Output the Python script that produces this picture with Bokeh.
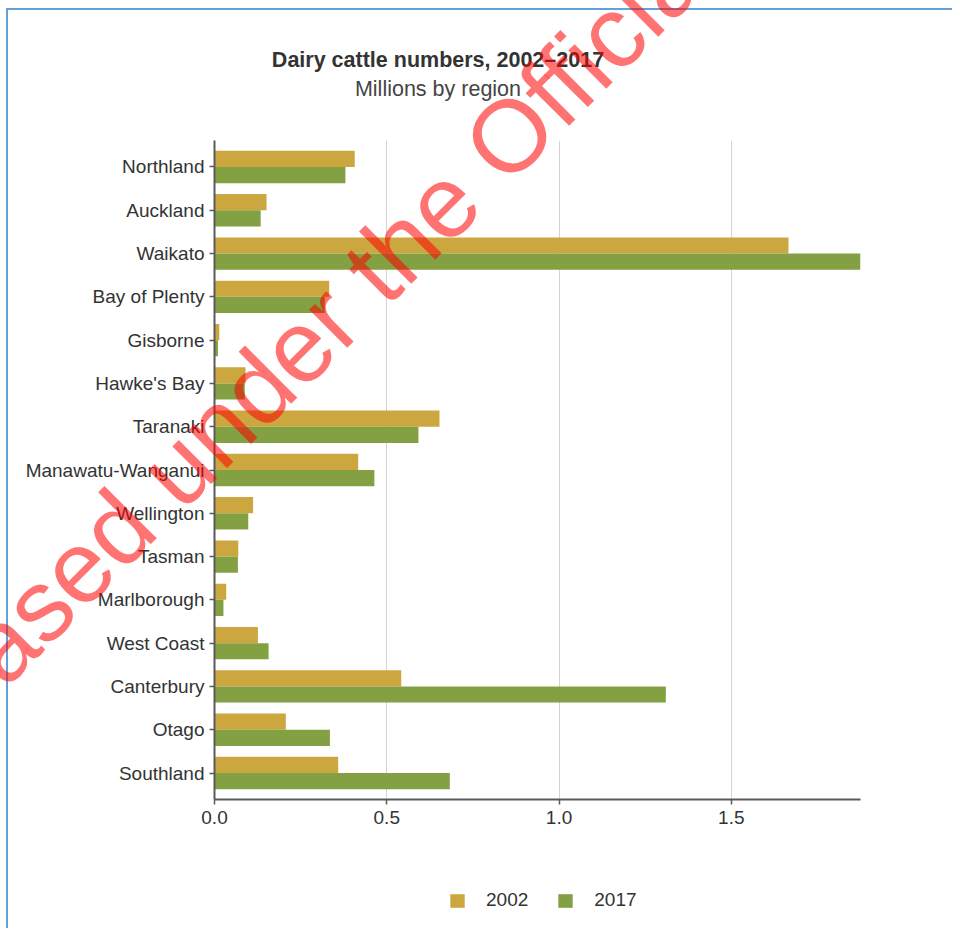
from bokeh.plotting import figure
from bokeh.layouts import column
from bokeh.models import (ColumnDataSource, Range1d, FixedTicker, Div,
                          PrintfTickFormatter, Legend, LegendItem)
from bokeh.transform import dodge
from bokeh.embed import file_html
from bokeh.resources import INLINE

# ---- data (millions of dairy cattle) ----
regions = ["Northland", "Auckland", "Waikato", "Bay of Plenty", "Gisborne",
           "Hawke's Bay", "Taranaki", "Manawatu-Wanganui", "Wellington",
           "Tasman", "Marlborough", "West Coast", "Canterbury", "Otago",
           "Southland"]
cattle_2002 = [0.407, 0.151, 1.666, 0.333, 0.014, 0.090, 0.653, 0.417,
               0.112, 0.069, 0.034, 0.126, 0.542, 0.207, 0.359]
cattle_2017 = [0.380, 0.134, 1.875, 0.320, 0.010, 0.088, 0.592, 0.464,
               0.098, 0.068, 0.026, 0.157, 1.310, 0.335, 0.683]
years = ["2002", "2017"]
x_ticks = [0.0, 0.5, 1.0, 1.5]

title_text = "Dairy cattle numbers, 2002\u20132017"
subtitle_text = "Millions by region"
watermark_text = "Released under the Official Information Act 1982"

FONT = "Liberation Sans"
C2002 = "#cca73f"
C2017 = "#83a142"
BLUE = "#62a0dc"

n = len(regions)
ypos = [n - i for i in range(n)]          # Northland at top
source = ColumnDataSource(data=dict(region=regions, ypos=ypos,
                                    v2002=cattle_2002, v2017=cattle_2017))

# ---- heading (and the red stamp that lies over the whole chart) ----
head_html = (
    '<div style="position:relative;width:944px;height:130px;'
    'font-family:\'Liberation Sans\',Arial,sans-serif;">'
    '<div style="position:absolute;left:0;top:37px;width:860px;text-align:center;'
    'font-weight:bold;font-size:21.5px;line-height:26px;color:#333333;">'
    f'{title_text}</div>'
    '<div style="position:absolute;left:0;top:66px;width:860px;text-align:center;'
    'font-size:21.5px;line-height:26px;color:#444444;">'
    f'{subtitle_text}</div>'
    '<div style="position:absolute;left:-151px;top:742px;'
    'transform-origin:0px 86px;transform:rotate(-45deg);white-space:nowrap;'
    'font-size:102px;line-height:102px;color:rgba(255,0,0,0.55);'
    'pointer-events:none;">'
    f'{watermark_text}</div>'
    '</div>'
)
head = Div(text=head_html, width=944, height=130, margin=0,
           styles={"z-index": "10", "position": "relative", "overflow": "visible"})

# ---- main bar chart ----
pad = 0.112
p = figure(width=944, height=699,
           y_range=Range1d(0.5 - pad, n + 0.5 + pad),
           x_range=Range1d(0, max(cattle_2017)),
           output_backend="svg", toolbar_location=None,
           min_border_left=206, min_border_right=92,
           min_border_top=0, min_border_bottom=40)
p.title.visible = False
p.margin = 0

bar_h = 0.374
r1 = p.hbar(y=dodge("ypos", bar_h / 2), right="v2002",
            height=bar_h, source=source, fill_color=C2002, line_color=None)
r2 = p.hbar(y=dodge("ypos", -bar_h / 2), right="v2017",
            height=bar_h, source=source, fill_color=C2017, line_color=None)

p.xaxis.ticker = FixedTicker(ticks=x_ticks)
p.xaxis.formatter = PrintfTickFormatter(format="%.1f")
p.yaxis.ticker = FixedTicker(ticks=ypos)
p.yaxis.major_label_overrides = {y: r for y, r in zip(ypos, regions)}
for ax in (p.xaxis[0], p.yaxis[0]):
    ax.axis_line_color = "#5a5a5a"
    ax.axis_line_width = 2
    ax.major_tick_line_color = "#5a5a5a"
    ax.major_tick_line_width = 1.5
    ax.major_tick_out = 5
    ax.major_tick_in = 0
    ax.minor_tick_line_color = None
    ax.major_label_text_font = FONT
    ax.major_label_text_font_size = "19px"
    ax.major_label_text_color = "#333333"
    ax.major_label_standoff = 5
p.xaxis.major_label_standoff = 6

p.xgrid.ticker = FixedTicker(ticks=x_ticks[1:])
p.xgrid.grid_line_color = "#d4d4d4"
p.xgrid.grid_line_width = 1
p.ygrid.visible = False
p.outline_line_color = None

# ---- legend strip (own small figure so the legend sits below the axis) ----
p2 = figure(width=944, height=89, x_range=Range1d(0, 1), y_range=Range1d(0, 1),
            x_axis_location=None, y_axis_location=None,
            output_backend="svg", toolbar_location=None,
            min_border_left=0, min_border_right=0,
            min_border_top=0, min_border_bottom=0)
p2.title.visible = False
p2.margin = 0
p2.grid.visible = False
p2.outline_line_color = None
k1 = p2.hbar(y="ypos", right="v2002", height=bar_h, source=source,
             fill_color=C2002, line_color=None, visible=False)
k2 = p2.hbar(y="ypos", right="v2017", height=bar_h, source=source,
             fill_color=C2017, line_color=None, visible=False)
legend = Legend(items=[LegendItem(label=years[0], renderers=[k1]),
                       LegendItem(label=years[1], renderers=[k2])],
                location=(234, 17), orientation="horizontal",
                glyph_width=18, glyph_height=17, label_standoff=20,
                spacing=28, padding=0, margin=0,
                label_text_font=FONT, label_text_font_size="19px",
                label_text_color="#333333", inactive_fill_alpha=0,
                border_line_color=None, background_fill_alpha=0)
p2.add_layout(legend)

layout = column(head, p, p2, spacing=0,
                styles={"border-top": f"2px solid {BLUE}",
                        "border-left": f"2px solid {BLUE}",
                        "margin-left": "6px", "margin-top": "8px"})

open("out.html", "w").write(file_html(layout, INLINE))
